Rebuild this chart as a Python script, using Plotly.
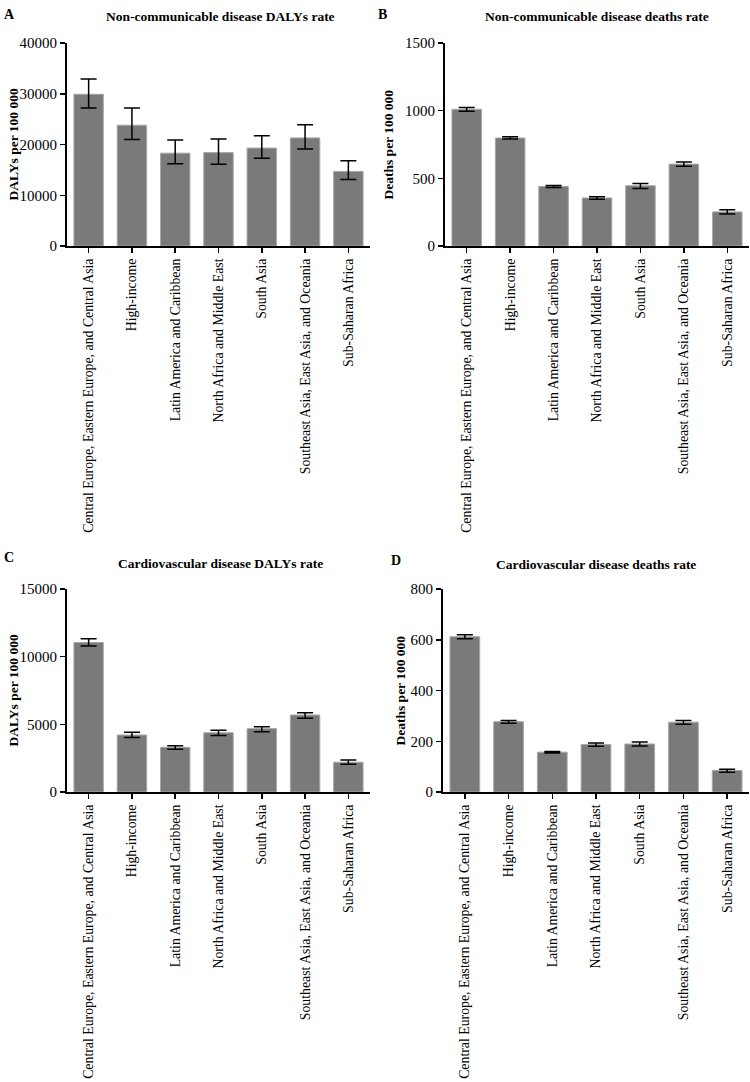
import plotly.graph_objects as go

regions = [
    "Central Europe, Eastern Europe, and Central Asia",
    "High-income",
    "Latin America and Caribbean",
    "North Africa and Middle East",
    "South Asia",
    "Southeast Asia, East Asia, and Oceania",
    "Sub-Saharan Africa",
]

# Panel A: Non-communicable disease DALYs rate
ncd_dalys = [29900, 23800, 18300, 18400, 19300, 21300, 14700]
ncd_dalys_upper = [32900, 27200, 20900, 21100, 21700, 23900, 16800]
ncd_dalys_lower = [27200, 21000, 16200, 16100, 17300, 19100, 13100]

# Panel B: Non-communicable disease deaths rate
ncd_deaths = [1010, 798, 440, 355, 445, 605, 252]
ncd_deaths_upper = [1024, 808, 447, 364, 462, 621, 268]
ncd_deaths_lower = [996, 790, 433, 346, 425, 590, 236]

# Panel C: Cardiovascular disease DALYs rate
cvd_dalys = [11050, 4210, 3300, 4380, 4680, 5690, 2200]
cvd_dalys_upper = [11330, 4410, 3420, 4560, 4830, 5860, 2360]
cvd_dalys_lower = [10790, 4020, 3160, 4170, 4460, 5450, 2050]

# Panel D: Cardiovascular disease deaths rate
cvd_deaths = [612, 277, 157, 187, 189, 275, 85]
cvd_deaths_upper = [620, 282, 160, 193, 197, 282, 90]
cvd_deaths_lower = [604, 271, 154, 180, 181, 267, 78]

W, H = 750, 1082


def px_x(v):
    return v / W


def px_y(v):
    return 1 - v / H


panels = [
    dict(letter="A", title="Non-communicable disease DALYs rate", ytitle="DALYs per 100 000",
         y=ncd_dalys, up=ncd_dalys_upper, lo=ncd_dalys_lower, yrange=[0, 40000], dtick=10000,
         xpx=(67, 370), ypx=(43, 246), letter_xy=(9, 15), title_xy=(220, 17), ytitle_x=13),
    dict(letter="B", title="Non-communicable disease deaths rate", ytitle="Deaths per 100 000",
         y=ncd_deaths, up=ncd_deaths_upper, lo=ncd_deaths_lower, yrange=[0, 1500], dtick=500,
         xpx=(445, 749), ypx=(43, 246), letter_xy=(382, 15), title_xy=(597, 17), ytitle_x=388),
    dict(letter="C", title="Cardiovascular disease DALYs rate", ytitle="DALYs per 100 000",
         y=cvd_dalys, up=cvd_dalys_upper, lo=cvd_dalys_lower, yrange=[0, 15000], dtick=5000,
         xpx=(67, 370), ypx=(589, 792), letter_xy=(9, 557), title_xy=(220, 563), ytitle_x=13),
    dict(letter="D", title="Cardiovascular disease deaths rate", ytitle="Deaths per 100 000",
         y=cvd_deaths, up=cvd_deaths_upper, lo=cvd_deaths_lower, yrange=[0, 800], dtick=200,
         xpx=(443, 749), ypx=(589, 792), letter_xy=(396, 560), title_xy=(596, 564), ytitle_x=400),
]

FONT = "Liberation Serif"

fig = go.Figure()
annotations = []
layout_axes = {}

for i, p in enumerate(panels, start=1):
    xa = "x" if i == 1 else f"x{i}"
    ya = "y" if i == 1 else f"y{i}"
    err_plus = [u - v for u, v in zip(p["up"], p["y"])]
    err_minus = [v - l for v, l in zip(p["y"], p["lo"])]
    fig.add_trace(go.Bar(
        x=regions, y=p["y"], xaxis=xa, yaxis=ya,
        marker=dict(color="#7a7a7a", line=dict(color="#a8a8a8", width=1)),
        error_y=dict(type="data", symmetric=False, array=err_plus, arrayminus=err_minus,
                     color="black", thickness=1.5, width=8),
        showlegend=False,
    ))
    xkey = "xaxis" if i == 1 else f"xaxis{i}"
    ykey = "yaxis" if i == 1 else f"yaxis{i}"
    xdom = [px_x(p["xpx"][0]), px_x(p["xpx"][1])]
    ydom = [px_y(p["ypx"][1]), px_y(p["ypx"][0])]
    layout_axes[xkey] = dict(
        domain=xdom, anchor=ya, type="category", range=[-0.5, 6.5],
        showline=True, linecolor="black", linewidth=2,
        ticks="outside", ticklen=5, tickwidth=1.5, tickcolor="black",
        tickangle=-90, tickfont=dict(family=FONT, size=13.8, color="black"),
        showgrid=False, zeroline=False, fixedrange=True, automargin=False,
    )
    layout_axes[ykey] = dict(
        domain=ydom, anchor=xa, range=p["yrange"], dtick=p["dtick"], tick0=0,
        showline=True, linecolor="black", linewidth=2,
        ticks="outside", ticklen=5, tickwidth=1.5, tickcolor="black",
        tickfont=dict(family=FONT, size=15, color="black"),
        showgrid=False, zeroline=False, tickformat="d", automargin=False,
    )
    annotations.append(dict(
        text=f"<b>{p['letter']}</b>", x=px_x(p["letter_xy"][0]), y=px_y(p["letter_xy"][1]),
        xref="paper", yref="paper", xanchor="center", yanchor="middle", showarrow=False,
        font=dict(family=FONT, size=14, color="black"),
    ))
    annotations.append(dict(
        text=f"<b>{p['title']}</b>", x=px_x(p["title_xy"][0]), y=px_y(p["title_xy"][1]),
        xref="paper", yref="paper", xanchor="center", yanchor="middle", showarrow=False,
        font=dict(family=FONT, size=13.5, color="black"),
    ))
    ymid = (ydom[0] + ydom[1]) / 2
    annotations.append(dict(
        text=f"<b>{p['ytitle']}</b>", x=px_x(p["ytitle_x"]), y=ymid, textangle=-90,
        xref="paper", yref="paper", xanchor="center", yanchor="middle", showarrow=False,
        font=dict(family=FONT, size=13.5, color="black"),
    ))

fig.update_layout(
    width=W, height=H,
    margin=dict(l=0, r=0, t=0, b=0, autoexpand=False),
    paper_bgcolor="white", plot_bgcolor="white",
    bargap=0.32,
    font=dict(family=FONT, color="black"),
    annotations=annotations,
    hovermode=False,
    **layout_axes,
)

fig.write_html(
    "out.html",
    config={"displayModeBar": False, "staticPlot": True},
    post_script="document.body.style.margin='0px';document.body.style.overflow='hidden';",
)
